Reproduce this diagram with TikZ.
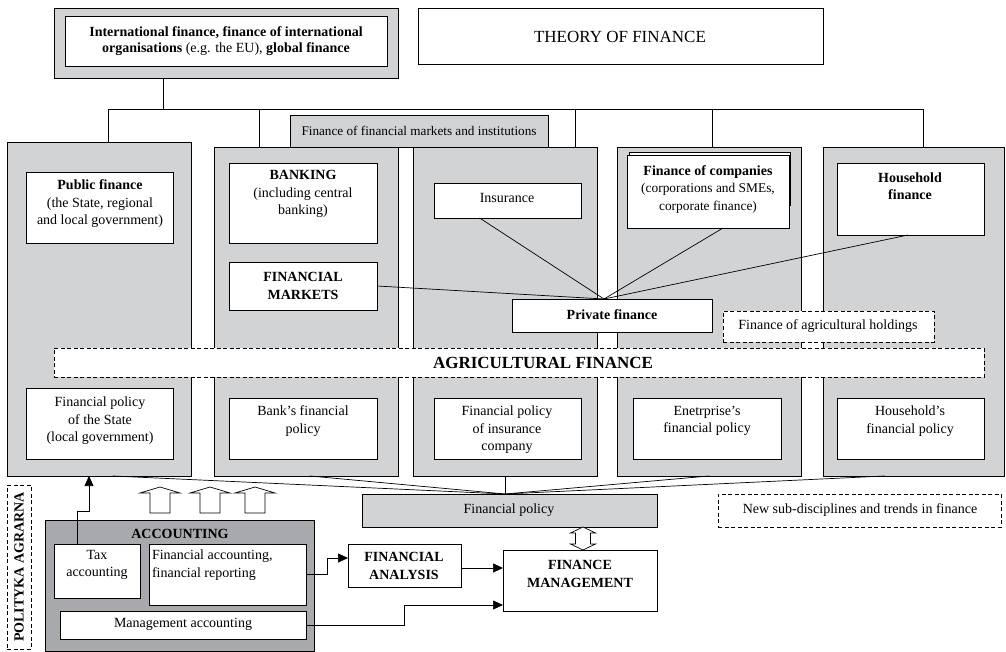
\documentclass[tikz,border=0pt]{standalone}
\usepackage{fontspec}
\setmainfont{Liberation Serif}
\usetikzlibrary{calc,arrows.meta}
\definecolor{lg}{HTML}{D1D3D4}
\definecolor{dg}{HTML}{A7A9AC}
\newcommand{\bx}[6]{\node[#2,anchor=north west,minimum width={(#5)-(#3)},minimum height={(#6)-(#4)}] (#1) at (#3,#4) {};}
\begin{document}
\begin{tikzpicture}[x=1pt,y=-1pt,
  every node/.style={inner sep=0pt,outer sep=0pt},
  bxg/.style={draw=black,fill=lg,line width=0.8pt},
  bxw/.style={draw=black,fill=white,line width=0.8pt},
  bxdk/.style={draw=black,fill=dg,line width=0.8pt},
  bxd/.style={draw=black,fill=white,dash pattern=on 4pt off 2.5pt,line width=0.8pt},
  bxdn/.style={draw=black,dash pattern=on 4pt off 2.5pt,line width=0.8pt},
  txt/.style={font=\fontsize{14}{17.5}\selectfont,align=center},
  ln/.style={line width=0.7pt},
  arr/.style={line width=0.7pt,-{Triangle[length=10pt,width=9pt]}},
  hollow/.style={line width=0.7pt,fill=white}]
\useasboundingbox (0,0) rectangle (1006,652);
\fill[white] (0,0) rectangle (1006,652);

% top
\bx{intlO}{bxg}{54}{8}{398}{78}
\bx{intlI}{bxw}{65}{16}{387}{66}
\node[txt,font=\fontsize{14}{16.5}\selectfont] (tIntl) at (226,41) {\textbf{International finance, finance of international}\\\textbf{organisations} (e.g. the EU), \textbf{global finance}};
\bx{theory}{bxw}{418}{8}{823}{64}
\node[txt,font=\fontsize{17}{20}\selectfont] (tTheory) at (620,37) {THEORY OF FINANCE};

% columns
\bx{pubCol}{bxg}{7}{142}{191}{476}
\bx{bankCol}{bxg}{214}{147}{398}{476}
\bx{insCol}{bxg}{413}{147}{597}{476}
\bx{compCol}{bxg}{617}{147}{801}{476}
\bx{housCol}{bxg}{823}{147}{1004}{476}

% bus
\coordinate (b0) at (163,109);
\coordinate (bL) at (108,109);
\coordinate (b2) at (259,109);
\coordinate (b3) at (575,109);
\coordinate (b4) at (712,109);
\coordinate (bR) at (923,109);
\draw[ln] ([xshift=109pt]intlO.south west) -- (b0);
\draw[ln] (bL) -- (bR);
\draw[ln] (bL) -- (bL |- pubCol.north);
\draw[ln] (b2) -- (b2 |- bankCol.north);
\draw[ln] (b3) -- (b3 |- insCol.north);
\draw[ln] (b4) -- (b4 |- compCol.north);
\draw[ln] (bR) -- (bR |- housCol.north);

\bx{fmi}{bxg}{290}{115}{548}{147}
\node[txt,font=\fontsize{13.2}{16}\selectfont] (tFmi) at (419,131) {Finance of financial markets and institutions};

% inner boxes
\bx{pub}{bxw}{26}{172}{173}{243}
\node[txt] (tPub) at (100,204) {\textbf{Public finance}\\(the State, regional\\and local government)};
\bx{bank}{bxw}{229}{163}{377}{243}
\node[txt] (tBank) at (303,194) {\textbf{BANKING}\\(including central\\banking)};
\bx{fm}{bxw}{229}{262}{377}{310}
\node[txt] (tFm) at (303,286) {\textbf{FINANCIAL}\\\textbf{MARKETS}};
\bx{ins}{bxw}{434}{183}{581}{218}
\node[txt] (tIns) at (507,198) {Insurance};
\bx{compB}{bxw}{629}{152}{790}{205}
\bx{comp}{bxw}{627}{155}{789}{228}
\node[txt] (tComp) at (708,189) {\textbf{Finance of companies}\\{\fontsize{13.4}{17.5}\selectfont(corporations and SMEs,}\\{\fontsize{13.4}{17.5}\selectfont corporate finance)}};
\bx{hous}{bxw}{837}{163}{984}{235}
\node[txt] (tHous) at (910,186) {\textbf{Household}\\\textbf{finance}};

\bx{pf}{bxw}{512}{299}{712}{332}
\node[txt] (tPf) at (612,315) {\textbf{Private finance}};
\bx{agh}{bxd}{723}{311}{934}{342}
\node[txt] (tAgh) at (828,326) {Finance of agricultural holdings};

\bx{agb}{bxd}{54}{348}{984}{377}
\node[txt,font=\fontsize{17}{20}\selectfont\bfseries] (tAgb) at (543,363) {AGRICULTURAL FINANCE};

\bx{polS}{bxw}{26}{388}{173}{459}
\node[txt] (tPolS) at (100,421) {Financial policy\\of the State\\(local government)};
\bx{polB}{bxw}{229}{398}{377}{459}
\node[txt] (tPolB) at (303,421) {Bank’s financial\\policy};
\bx{polI}{bxw}{434}{398}{581}{459}
\node[txt] (tPolI) at (507,430) {Financial policy\\of insurance\\company};
\bx{polE}{bxw}{633}{398}{781}{459}
\node[txt] (tPolE) at (707,421) {Enetrprise’s\\financial policy};
\bx{polH}{bxw}{837}{398}{984}{459}
\node[txt] (tPolH) at (910,421) {Household’s\\financial policy};

% private finance connectors
\coordinate (pfT) at ($(pf.north west)!0.46!(pf.north east)$);
\draw[ln] (fm.east) -- (pfT);
\draw[ln] ($(ins.south west)!0.31!(ins.south east)$) -- (pfT);
\draw[ln] ($(comp.south west)!0.593!(comp.south east)$) -- (pfT);
\draw[ln] ($(hous.south west)!0.483!(hous.south east)$) -- (pfT);

% financial policy
\bx{fp}{bxg}{362}{494}{657}{527}
\node[txt] (tFp) at (509,510) {Financial policy};
\coordinate (fpT) at (insCol.south |- fp.north);
\draw[ln] ($(pubCol.south west)!0.576!(pubCol.south east)$) -- (fpT);
\draw[ln] ($(bankCol.south west)!0.522!(bankCol.south east)$) -- (fpT);
\draw[ln] (insCol.south) -- (fpT);
\draw[ln] (compCol.south) -- (fpT);
\draw[ln] ($(housCol.south west)!0.34!(housCol.south east)$) -- (fpT);

\bx{nsd}{bxd}{718}{494}{1001}{527}
\node[txt] (tNsd) at (860,510) {New sub-disciplines and trends in finance};

% finance management
\bx{fmg}{bxw}{503}{550}{657}{611}
\node[txt] (tFmg) at (580,574) {\textbf{FINANCE}\\\textbf{MANAGEMENT}};
\draw[hollow] (583,527) -- (595.5,533) -- (590.5,533) -- (590.5,544) -- (595.5,544) -- (583,550)
  -- (570.5,544) -- (575.5,544) -- (575.5,533) -- (570.5,533) -- cycle;

\bx{fan}{bxw}{348}{544}{461}{587}
\node[txt] (tFan) at (404,566) {\textbf{FINANCIAL}\\\textbf{ANALYSIS}};
\draw[arr] ([yshift=-2.5pt]fan.east) -- ([yshift=-2.5pt]fan.east -| fmg.west);

% accounting
\bx{acc}{bxdk}{45}{520}{314}{651.5}
\node[txt] (tAcc) at (180,534) {\textbf{ACCOUNTING}};
\bx{tax}{bxw}{54}{544}{140}{598}
\node[txt] (tTax) at (97,565) {Tax\\accounting};
\bx{fac}{bxw}{149}{544}{306}{605}
\node[txt,align=left,anchor=west] (tFac) at (152,565) {Financial accounting,\\financial reporting};
\bx{mac}{bxw}{60}{611}{306}{639}
\node[txt] (tMac) at (183,624) {Management accounting};

\draw[arr] (fac.east) -- ++(21,0) |- ([yshift=7.5pt]fan.west);
\draw[arr] (mac.east) -- ++(98,0) |- ([yshift=-24.5pt]fmg.west);
\draw[arr] ([xshift=-20pt]tax.north) -- ++(0,-33) -- ++(12,0) -- ([xshift=82pt]pubCol.south west);

% hollow up arrows
\foreach \c in {160,210,255}{
  \draw[hollow] (\c,487) -- (\c+20,493) -- (\c+10,493) -- (\c+10,513) -- (\c-10,513) -- (\c-10,493) -- (\c-20,493) -- cycle;
}

% polityka agrarna
\bx{pol}{bxdn}{7}{485}{31}{649}
\node[txt,rotate=90] (tPol) at (19,567) {\textbf{POLITYKA AGRARNA}};
\end{tikzpicture}
\end{document}
